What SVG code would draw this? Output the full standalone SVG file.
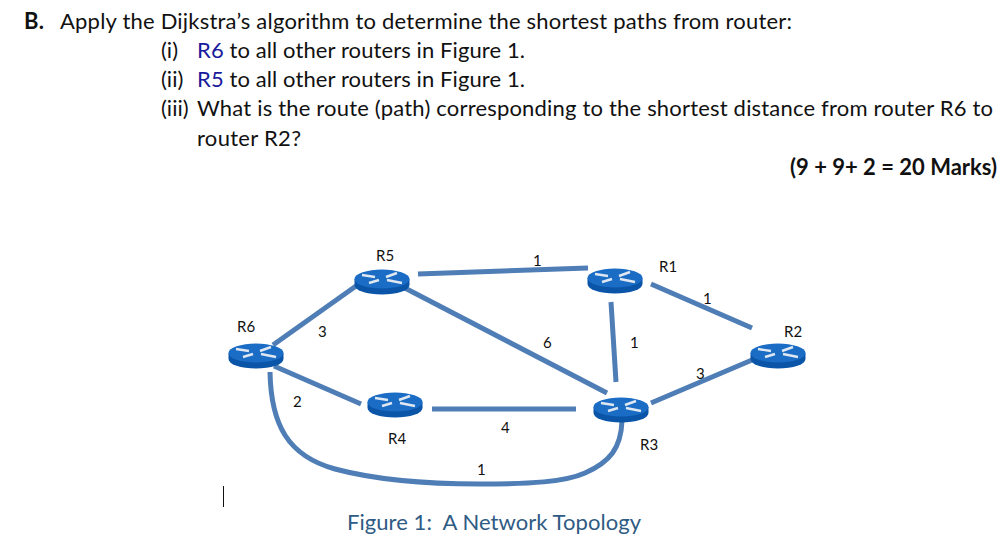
<svg xmlns="http://www.w3.org/2000/svg" width="1007" height="543" viewBox="0 0 1007 543">
<style>
text{font-family:"Lato","Liberation Sans",sans-serif;fill:#111;white-space:pre}
.h{font-size:22px}
.b{font-weight:700}
.blue{fill:#1a1a9c}
.l{font-size:15px}
.cap{font-size:22px;fill:#2f5b84}
.c{fill:none;stroke:#4f7db5;stroke-width:5}
.side{fill:#0a55a8}
.top{fill:#1b6cc4}
.g{stroke:#dfe8f2;stroke-width:2.4;fill:none}
</style>
<defs>
<g id="rt">
<path class="side" d="M-27.500 0V6A27.500 9.500 0 0 0 27.500 6V0Z"/>
<ellipse class="top" rx="27.500" ry="9.500"/>
<path class="g" d="M-20-4L-7-2M-13 4L-3 1M4-2L15-6M5 1L20 4"/>
</g>
</defs>
<rect width="1007" height="543" fill="#fff"/>
<g id="question">
<text class="h b" x="24" y="29" textLength="20">B.</text>
<text class="h" x="60" y="29" textLength="732">Apply the Dijkstra’s algorithm to determine the shortest paths from router:</text>
<text class="h" x="161" y="58">(i)</text>
<text class="h" x="197" y="58" textLength="328"><tspan class="blue">R6</tspan> to all other routers in Figure 1.</text>
<text class="h" x="161" y="87">(ii)</text>
<text class="h" x="197" y="87" textLength="328"><tspan class="blue">R5</tspan> to all other routers in Figure 1.</text>
<text class="h" x="161" y="116">(iii)</text>
<text class="h" x="197" y="116" textLength="796">What is the route (path) corresponding to the shortest distance from router R6 to</text>
<text class="h" x="197" y="146" textLength="104">router R2?</text>
<text class="h b" x="790" y="175" textLength="207">(9 + 9+ 2 = 20 Marks)</text>
</g>
<g id="connectors">
<path class="c" d="M273 345L356 286"/>
<path class="c" d="M418 274L588 268"/>
<path class="c" d="M401 286L607 393"/>
<path class="c" d="M274 366L361 404"/>
<path class="c" d="M432 409H576"/>
<path class="c" d="M611 302L616 382"/>
<path class="c" d="M651 284L752 328"/>
<path class="c" d="M651 403L752 360"/>
<path class="c" d="M270 372C271 425 288 456 335 469C380 481 430 484 480 484C530 484 565 482 585 473C610 462 621 448 622 421"/>
</g>
<g id="R5"><use href="#rt" x="382" y="279"/><text class="l" x="376" y="261">R5</text></g>
<g id="R6"><use href="#rt" x="256" y="353"/><text class="l" x="237" y="332">R6</text></g>
<g id="R4"><use href="#rt" x="395" y="402"/><text class="l" x="388" y="444">R4</text></g>
<g id="R3"><use href="#rt" x="621" y="407"/><text class="l" x="640" y="450">R3</text></g>
<g id="R1"><use href="#rt" x="615" y="278"/><text class="l" x="659" y="272">R1</text></g>
<g id="R2"><use href="#rt" x="778" y="353"/><text class="l" x="784" y="337">R2</text></g>
<g id="labels">
<text class="l" x="318" y="337">3</text>
<text class="l" x="293" y="407">2</text>
<text class="l" x="533" y="266">1</text>
<text class="l" x="543" y="348">6</text>
<text class="l" x="630" y="348">1</text>
<text class="l" x="703" y="304">1</text>
<text class="l" x="696" y="379">3</text>
<text class="l" x="501" y="433">4</text>
<text class="l" x="477" y="475">1</text>
</g>
<path d="M223.500 486V507" stroke="#111" stroke-width="1" fill="none"/>
<text class="cap" x="347" y="530" textLength="294">Figure 1:  A Network Topology</text>
</svg>
